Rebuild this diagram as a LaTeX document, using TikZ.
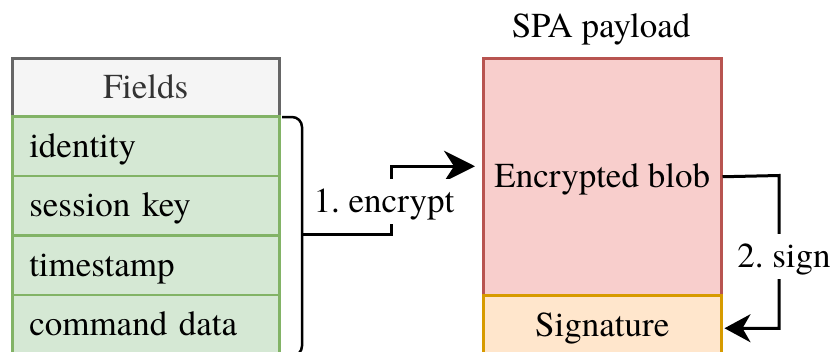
\documentclass[tikz,border=0pt]{standalone}
\usepackage{fontspec}
\setmainfont{TeX Gyre Termes}
\usetikzlibrary{arrows.meta}
\frenchspacing

\definecolor{hdrfill}{HTML}{F5F5F5}
\definecolor{hdrline}{HTML}{666666}
\definecolor{hdrtext}{HTML}{333333}
\definecolor{fieldfill}{HTML}{D5E8D4}
\definecolor{fieldline}{HTML}{82B366}
\definecolor{blobfill}{HTML}{F8CECC}
\definecolor{blobline}{HTML}{B85450}
\definecolor{sigfill}{HTML}{FFE6CC}
\definecolor{sigline}{HTML}{D79B00}

\tikzset{
  x=1pt, y=1pt,
  every node/.style={font=\fontsize{35}{42}\selectfont,
    text height=29pt, text depth=7pt},
  hdrcell/.style={rectangle, anchor=north west, line width=2.5pt,
    minimum width=267pt, minimum height=58pt, inner sep=0pt,
    fill=hdrfill, draw=hdrline, text=hdrtext},
  fieldcell/.style={rectangle, anchor=north west, line width=2.5pt,
    text width=233pt, inner xsep=17pt, inner ysep=0pt, align=left,
    minimum height=59.5pt, fill=fieldfill, draw=fieldline},
  blobbox/.style={rectangle, anchor=north west, line width=2.5pt,
    minimum width=238pt, minimum height=237pt, inner sep=0pt,
    fill=blobfill, draw=blobline},
  sigbox/.style={rectangle, anchor=north west, line width=2.5pt,
    minimum width=238pt, minimum height=60pt, inner sep=0pt,
    fill=sigfill, draw=sigline},
  conn/.style={draw=black, line width=3pt},
  steplabel/.style={fill=white, inner xsep=2pt, inner ysep=4.5pt},
  plainlabel/.style={inner sep=0pt}
}

\begin{document}
\begin{tikzpicture}
  \clip (0,0) rectangle (833,-351);

  % field table
  \node[hdrcell]   (hdr)  at (11,-57)    {Fields};
  \node[fieldcell] (f1)   at (11,-115)   {identity};
  \node[fieldcell] (f2)   at (11,-174.5) {session key};
  \node[fieldcell] (f3)   at (11,-234)   {timestamp};
  \node[fieldcell] (f4)   at (11,-293.5) {command data};

  % brace grouping the fields
  \draw[line width=2.5pt, rounded corners=10pt]
    (282,-117) -| (302,-234) |- (282,-356);
  \coordinate (brtip) at (302,-234);

  % SPA payload
  \node[plainlabel] (title) at (601,-26) {SPA payload};
  \node[blobbox] (blob) at (482,-57)  {Encrypted blob};
  \node[sigbox]  (sig)  at (482,-294) {Signature};

  % step 1: encrypt
  \draw[conn, -{Stealth[length=31pt, width=31pt, inset=10pt]}]
    (brtip) -- (391,-234) |- ([shift={(-7pt,10.5pt)}]blob.west);
  \node[steplabel] (enc) at (384,-201) {1. encrypt};

  % step 2: sign
  \draw[conn, -{Stealth[length=26pt, width=28pt, inset=8pt]}]
    (blob.east) -- (779,-175.5) |- ([shift={(2pt,-3pt)}]sig.east);
  \node[steplabel] (sgn) at (784,-256) {2. sign};
\end{tikzpicture}
\end{document}
